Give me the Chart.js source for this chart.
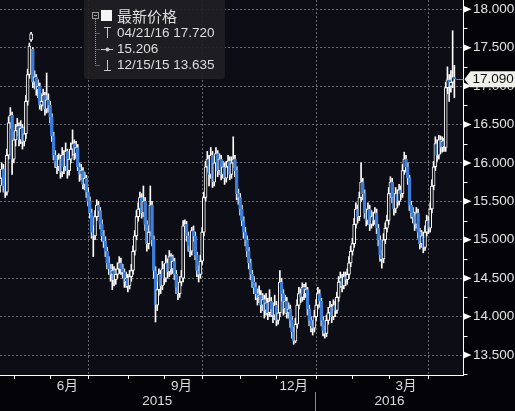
<!DOCTYPE html>
<html>
<head>
<meta charset="utf-8">
<script src="https://cdn.jsdelivr.net/npm/chart.js@4.4.1/dist/chart.umd.min.js"></script>
<style>
  html, body { margin: 0; padding: 0; background: #040408; }
  #wrap { width: 515px; height: 411px; position: relative; }
</style>
</head>
<body>
<div id="wrap"><canvas id="chart" width="515" height="411"></canvas></div>
<script>
// daily prices, 2015-04-21 .. 2016-04-22
const opens = [
  15.70,15.80,15.92,15.70,15.62,16.10,16.52,16.62,16.05,16.30,
  16.42,16.48,16.30,16.45,16.28,16.38,16.80,17.15,17.60,17.48,
  17.05,17.12,16.95,17.00,16.75,16.80,16.88,16.70,16.82,16.75,
  16.60,16.35,16.10,16.02,15.95,16.05,15.88,16.10,15.95,16.15,
  15.90,16.05,16.18,16.25,16.12,16.20,15.95,15.85,15.90,15.72,
  15.80,15.62,15.50,15.35,15.10,15.05,15.30,15.45,15.38,15.20,
  15.05,14.98,14.85,14.70,14.62,14.55,14.60,14.48,14.55,14.62,
  14.70,14.62,14.58,14.45,14.50,14.40,14.52,14.60,14.85,15.05,
  15.30,15.40,15.55,15.35,15.50,15.20,14.95,15.10,15.45,15.00,
  14.60,14.15,14.35,14.55,14.40,14.62,14.50,14.70,14.58,14.78,
  14.62,14.72,14.55,14.38,14.30,14.45,14.50,15.18,15.20,15.05,
  14.92,14.85,15.12,15.05,14.80,14.60,14.55,14.72,15.10,15.55,
  15.95,16.05,15.85,16.10,15.75,16.00,16.12,15.90,16.05,15.85,
  15.95,15.80,15.95,16.02,15.85,16.00,16.05,15.90,15.60,15.55,
  15.40,15.25,15.10,15.00,14.85,14.70,14.55,14.45,14.38,14.30,
  14.25,14.28,14.15,14.22,14.08,14.18,14.05,14.20,14.10,14.02,
  14.15,13.95,14.05,14.45,14.30,14.10,14.20,14.05,14.10,13.95,
  13.80,13.68,13.90,14.15,14.30,14.25,14.38,14.30,14.35,14.10,
  13.95,13.88,13.85,14.00,14.15,14.30,14.20,13.95,13.82,13.78,
  13.95,14.05,14.12,14.00,14.15,14.08,14.25,14.45,14.50,14.40,
  14.52,14.48,14.55,14.70,14.85,14.95,15.20,15.40,15.30,15.55,
  15.75,15.60,15.35,15.25,15.40,15.20,15.30,15.25,15.35,15.15,
  15.00,14.80,14.75,15.00,15.15,15.25,15.60,15.75,15.55,15.40,
  15.60,15.50,15.65,15.60,15.90,16.05,15.95,15.80,15.45,15.35,
  15.30,15.20,15.35,15.10,14.95,15.05,14.90,15.10,15.25,15.15,
  15.40,15.70,15.95,16.25,16.10,16.30,16.20,16.28,16.20,16.98,
  17.08,17.00,17.05,17.12
];
const highs = [
  15.90,16.00,15.98,15.78,16.18,16.60,16.72,16.66,16.40,16.50,
  16.58,16.52,16.55,16.50,16.46,16.88,17.22,17.56,17.70,17.50,
  17.20,17.15,17.08,17.04,16.90,16.96,16.92,17.17,16.90,16.80,
  16.64,16.40,16.16,16.10,16.12,16.10,16.20,16.16,16.26,16.18,
  16.14,16.26,16.43,16.30,16.28,16.24,16.00,15.98,15.94,15.88,
  15.84,15.68,15.56,15.40,15.18,15.38,15.52,15.50,15.42,15.26,
  15.12,15.04,14.90,14.78,14.68,14.68,14.65,14.62,14.70,14.78,
  14.76,14.68,14.62,14.58,14.55,14.60,14.68,14.92,15.12,15.38,
  15.48,15.62,15.60,15.70,15.55,15.25,15.18,15.70,15.50,15.05,
  14.65,14.45,14.62,14.60,14.72,14.68,14.80,14.75,14.86,14.82,
  14.80,14.76,14.60,14.44,14.52,14.60,15.25,15.26,15.24,15.10,
  14.98,15.16,15.18,15.10,14.84,14.66,14.80,15.16,15.62,16.02,
  16.15,16.10,16.20,16.15,16.08,16.20,16.16,16.12,16.10,16.02,
  16.00,16.02,16.10,16.08,16.08,16.34,16.10,15.95,15.66,15.60,
  15.45,15.30,15.16,15.05,14.90,14.75,14.60,14.52,14.44,14.36,
  14.40,14.34,14.30,14.28,14.30,14.24,14.35,14.25,14.18,14.28,
  14.20,14.15,14.60,14.50,14.35,14.28,14.25,14.18,14.15,14.00,
  13.86,13.98,14.22,14.38,14.36,14.44,14.42,14.44,14.38,14.15,
  14.00,13.95,14.08,14.22,14.38,14.35,14.24,14.00,13.88,14.02,
  14.12,14.20,14.16,14.22,14.20,14.32,14.52,14.58,14.55,14.58,
  14.58,14.62,14.78,14.92,15.02,15.28,15.48,15.45,15.62,16.00,
  15.80,15.65,15.40,15.48,15.45,15.38,15.36,15.42,15.40,15.20,
  15.05,14.86,15.08,15.22,15.32,15.68,15.82,15.80,15.60,15.68,
  15.65,15.72,15.70,15.98,16.14,16.10,16.00,15.84,15.50,15.42,
  15.36,15.42,15.40,15.15,15.12,15.10,15.18,15.32,15.30,15.48,
  15.78,16.02,16.34,16.30,16.36,16.35,16.34,16.32,17.05,17.25,
  17.15,17.20,17.72,17.27
];
const lows = [
  15.62,15.72,15.62,15.55,15.58,16.05,16.45,15.85,16.00,16.22,
  16.35,16.22,16.25,16.18,16.22,16.32,16.75,17.10,17.58,16.98,
  16.96,16.88,16.85,16.70,16.68,16.74,16.62,16.65,16.66,16.52,
  16.28,16.04,15.94,15.86,15.90,15.80,15.82,15.86,15.90,15.80,
  15.84,16.00,16.10,16.04,16.06,15.90,15.76,15.78,15.66,15.65,
  15.55,15.44,15.28,15.02,14.78,15.00,15.25,15.30,15.14,14.98,
  14.90,14.78,14.62,14.55,14.46,14.35,14.40,14.42,14.50,14.56,
  14.55,14.50,14.38,14.38,14.32,14.36,14.46,14.55,14.80,15.00,
  15.24,15.35,15.28,15.30,15.12,14.85,14.88,15.05,14.92,14.50,
  13.93,14.08,14.28,14.30,14.35,14.42,14.45,14.50,14.52,14.55,
  14.56,14.48,14.30,14.22,14.25,14.40,14.45,15.10,14.98,14.85,
  14.78,14.80,14.98,14.74,14.52,14.45,14.50,14.68,15.05,15.50,
  15.88,15.70,15.80,15.68,15.70,15.95,15.82,15.85,15.78,15.80,
  15.72,15.75,15.90,15.78,15.80,15.94,15.82,15.52,15.46,15.32,
  15.18,15.02,14.92,14.78,14.62,14.48,14.38,14.30,14.22,14.15,
  14.18,14.05,14.08,13.98,14.02,13.96,14.00,14.00,13.92,13.96,
  13.88,13.90,14.00,14.20,14.02,14.04,13.98,13.98,13.86,13.72,
  13.64,13.66,13.85,14.10,14.18,14.20,14.22,14.25,14.02,13.88,
  13.80,13.76,13.80,13.95,14.10,14.12,13.88,13.75,13.72,13.74,
  13.90,14.00,13.92,13.96,14.00,14.04,14.20,14.38,14.32,14.36,
  14.40,14.42,14.50,14.65,14.80,14.90,15.15,15.22,15.25,15.50,
  15.52,15.28,15.18,15.20,15.12,15.15,15.18,15.20,15.08,14.92,
  14.72,14.63,14.70,14.95,15.10,15.20,15.55,15.48,15.32,15.35,
  15.42,15.45,15.52,15.55,15.85,15.88,15.72,15.38,15.28,15.22,
  15.12,15.15,15.02,14.88,14.90,14.83,14.86,15.05,15.08,15.10,
  15.35,15.65,15.90,16.02,16.05,16.12,16.14,16.15,16.15,16.90,
  16.80,16.92,16.98,16.85
];
const closes = [
  15.80,15.92,15.70,15.62,16.10,16.52,16.62,16.05,16.30,16.42,
  16.48,16.30,16.45,16.28,16.38,16.80,17.15,17.52,17.68,17.05,
  17.12,16.95,17.00,16.75,16.80,16.88,16.70,16.82,16.75,16.60,
  16.35,16.10,16.02,15.95,16.05,15.88,16.10,15.95,16.15,15.90,
  16.05,16.18,16.25,16.12,16.20,15.95,15.85,15.90,15.72,15.80,
  15.62,15.50,15.35,15.10,15.05,15.30,15.45,15.38,15.20,15.05,
  14.98,14.85,14.70,14.62,14.55,14.60,14.48,14.55,14.62,14.70,
  14.62,14.58,14.45,14.50,14.40,14.52,14.60,14.85,15.05,15.30,
  15.40,15.55,15.35,15.50,15.20,14.95,15.10,15.45,15.00,14.60,
  14.15,14.35,14.55,14.40,14.62,14.50,14.70,14.58,14.78,14.62,
  14.72,14.55,14.38,14.30,14.45,14.52,15.18,15.20,15.05,14.92,
  14.85,15.12,15.05,14.80,14.60,14.55,14.72,15.10,15.55,15.95,
  16.05,15.85,16.10,15.75,16.00,16.12,15.90,16.05,15.85,15.95,
  15.80,15.95,16.02,15.85,16.00,16.05,15.90,15.60,15.55,15.40,
  15.25,15.10,15.00,14.85,14.70,14.55,14.45,14.38,14.30,14.25,
  14.28,14.15,14.22,14.08,14.18,14.05,14.20,14.10,14.02,14.15,
  13.95,14.05,14.45,14.30,14.10,14.20,14.05,14.10,13.95,13.80,
  13.68,13.90,14.15,14.30,14.25,14.38,14.30,14.35,14.10,13.95,
  13.88,13.85,14.00,14.15,14.30,14.20,13.95,13.82,13.78,13.95,
  14.05,14.12,14.00,14.15,14.08,14.25,14.45,14.50,14.40,14.52,
  14.48,14.55,14.70,14.85,14.95,15.20,15.40,15.30,15.55,15.75,
  15.60,15.35,15.25,15.40,15.20,15.30,15.25,15.35,15.15,15.00,
  14.80,14.75,15.00,15.15,15.25,15.60,15.75,15.55,15.40,15.60,
  15.50,15.65,15.60,15.90,16.05,15.95,15.80,15.45,15.35,15.30,
  15.20,15.35,15.10,14.95,15.05,14.90,15.10,15.25,15.15,15.40,
  15.70,15.95,16.25,16.10,16.30,16.20,16.28,16.22,16.98,17.08,
  17.00,17.05,17.12,17.09
];

const yTicks = [13.5, 14.0, 14.5, 15.0, 15.5, 16.0, 16.5, 17.0, 17.5, 18.0];
const yMinorTicks = [13.25, 13.75, 14.25, 14.75, 15.25, 15.75, 16.25, 16.75, 17.25, 17.75];
const monthLabelDates = ['2015-06-15', '2015-09-15', '2015-12-15', '2016-03-15'];
const monthLabelTexts = ['6月', '9月', '12月', '3月'];
const yearLabels = ['2015', '2016'];
const legendTitle = '最新价格';
const legendRows = ['04/21/16 17.720', '15.206', '12/15/15 13.635'];

// weekday categories, axis runs a week past the last bar
const dates = [];
for (let d = new Date(Date.UTC(2015, 3, 21)); d <= new Date(Date.UTC(2016, 3, 29)); d.setUTCDate(d.getUTCDate() + 1)) {
    const wd = d.getUTCDay();
    if (wd !== 0 && wd !== 6) dates.push(d.toISOString().slice(0, 10));
}

const monthStarts = [];
const quarterStarts = [];
dates.forEach((s, i) => {
    if (i > 0 && s.slice(5, 7) !== dates[i - 1].slice(5, 7)) {
        monthStarts.push(i);
        if (['01', '04', '07', '10'].includes(s.slice(5, 7))) quarterStarts.push(i);
    }
});
const monthLabelAt = {};
monthLabelDates.forEach((md, k) => {
    const idx = dates.findIndex(s => s >= md);
    monthLabelAt[idx] = monthLabelTexts[k];
});

const UP = "#ffffff";
const DOWN = "#3b7dd8";
const BG = "#0d0d15";
const GRID = "#6a6a6a";
const FONT = "'Liberation Sans', Arial, 'Noto Sans CJK SC', sans-serif";

const wicks = lows.map((l, i) => [l, highs[i]]);
const bodies = opens.map((o, i) => [o, closes[i]]);
const isUp = opens.map((o, i) => closes[i] >= o);

const noPad = s => { s.paddingTop = 0; s.paddingBottom = 0; s.paddingLeft = 0; s.paddingRight = 0; };

const decor = {
    id: 'decor',
    beforeDraw(chart) {
        const { ctx, chartArea: a } = chart;
        ctx.save();
        ctx.fillStyle = BG;
        ctx.fillRect(a.left, a.top, a.right - a.left, a.bottom - a.top);
        ctx.restore();
    },
    beforeDatasetsDraw(chart) {
        // dotted quarter lines
        const { ctx, chartArea: a } = chart;
        const xs = chart.scales.x;
        ctx.save();
        ctx.strokeStyle = GRID;
        ctx.lineWidth = 1;
        ctx.setLineDash([2, 2]);
        quarterStarts.forEach(i => {
            const px = Math.round(xs.getPixelForValue(i)) + 0.5;
            ctx.beginPath();
            ctx.moveTo(px, a.top);
            ctx.lineTo(px, a.bottom);
            ctx.stroke();
        });
        ctx.restore();
    },
    afterDraw(chart) {
        const { ctx, chartArea: a } = chart;
        const xs = chart.scales.x, ys = chart.scales.y;
        ctx.save();

        // y axis markers
        const ax = Math.round(ys.left) + 0.5;
        ctx.fillStyle = "#ffffff";
        ctx.strokeStyle = "#ffffff";
        ctx.lineWidth = 1;
        yTicks.forEach(v => {
            const py = ys.getPixelForValue(v);
            ctx.beginPath();
            ctx.moveTo(ax, py - 3.5);
            ctx.lineTo(ax + 8, py);
            ctx.lineTo(ax, py + 3.5);
            ctx.closePath();
            ctx.fill();
        });
        yMinorTicks.forEach(v => {
            const py = Math.round(ys.getPixelForValue(v)) + 0.5;
            ctx.beginPath();
            ctx.moveTo(ax, py);
            ctx.lineTo(ax + 4, py);
            ctx.stroke();
        });

        // month ticks under the x axis
        monthStarts.forEach(i => {
            const px = Math.round(xs.getPixelForValue(i)) + 0.5;
            ctx.beginPath();
            ctx.moveTo(px, a.bottom);
            ctx.lineTo(px, a.bottom + 4);
            ctx.stroke();
        });

        // year labels and separator
        ctx.fillStyle = "#dcdcdc";
        ctx.font = "13.5px " + FONT;
        ctx.textAlign = "center";
        ctx.textBaseline = "middle";
        yearLabels.forEach(yr => {
            const first = dates.findIndex(s => s.startsWith(yr));
            let last = first;
            dates.forEach((s, i) => { if (s.startsWith(yr)) last = i; });
            const px = (xs.getPixelForValue(first) + xs.getPixelForValue(last)) / 2;
            ctx.fillText(yr, px, a.bottom + 26);
            if (first > 0) {
                const sx = Math.round((xs.getPixelForValue(first - 1) + xs.getPixelForValue(first)) / 2) + 0.5;
                ctx.strokeStyle = "#8a8a8a";
                ctx.beginPath();
                ctx.moveTo(sx, a.bottom + 17);
                ctx.lineTo(sx, chart.height);
                ctx.stroke();
            }
        });

        // last price marker
        const li = closes.length - 1;
        const lp = ys.getPixelForValue(closes[li]);
        const ly = Math.round(lp) + 0.5;
        ctx.strokeStyle = "#d2703a";
        ctx.beginPath();
        ctx.moveTo(xs.getPixelForValue(li) + 2, ly);
        ctx.lineTo(ax, ly);
        ctx.stroke();
        ctx.fillStyle = "#f0f0ea";
        ctx.beginPath();
        ctx.moveTo(ax + 1, lp);
        ctx.lineTo(ax + 7, lp - 8);
        ctx.lineTo(chart.width, lp - 8);
        ctx.lineTo(chart.width, lp + 8);
        ctx.lineTo(ax + 7, lp + 8);
        ctx.closePath();
        ctx.fill();
        ctx.fillStyle = "#111111";
        ctx.textAlign = "left";
        ctx.fillText(closes[li].toFixed(3), ax + 9, lp + 0.5);

        // legend box
        ctx.fillStyle = "rgba(30, 30, 36, 0.92)";
        ctx.beginPath();
        ctx.roundRect(84, -4, 141, 83, 4);
        ctx.fill();
        ctx.strokeStyle = "#9a9a9a";
        ctx.strokeRect(92.5, 12.5, 6, 6);
        ctx.beginPath();
        ctx.moveTo(94, 15.5); ctx.lineTo(97, 15.5);
        ctx.stroke();
        ctx.setLineDash([1, 1]);
        ctx.beginPath();
        ctx.moveTo(95.5, 19); ctx.lineTo(95.5, 65);
        [33, 49, 65].forEach(ry => { ctx.moveTo(95.5, ry + 0.5); ctx.lineTo(100, ry + 0.5); });
        ctx.stroke();
        ctx.setLineDash([]);
        ctx.fillStyle = "#f4f4f4";
        ctx.fillRect(101, 10, 11, 11);
        ctx.strokeStyle = "#c8c8c8";
        ctx.beginPath();
        ctx.moveTo(104, 27.5); ctx.lineTo(111, 27.5);
        ctx.moveTo(107.5, 27.5); ctx.lineTo(107.5, 38);
        ctx.moveTo(101, 49.5); ctx.lineTo(113, 49.5);
        ctx.moveTo(107.5, 60); ctx.lineTo(107.5, 70.5);
        ctx.moveTo(104, 70.5); ctx.lineTo(111, 70.5);
        ctx.stroke();
        ctx.beginPath();
        ctx.arc(107.5, 49.5, 2, 0, Math.PI * 2);
        ctx.fillStyle = "#c8c8c8";
        ctx.fill();
        ctx.fillStyle = "#dedede";
        ctx.textAlign = "left";
        ctx.font = "15px 'Noto Sans CJK SC', sans-serif";
        ctx.fillText(legendTitle, 117, 16);
        ctx.font = "13.5px " + FONT;
        legendRows.forEach((t, k) => ctx.fillText(t, 117, 33 + k * 16));
        ctx.restore();
    }
};

new Chart(document.getElementById("chart"), {
    type: "bar",
    data: {
        labels: dates,
        datasets: [
            {
                label: "wick",
                data: wicks,
                backgroundColor: "#ffffff",
                barThickness: 1,
                grouped: false,
                order: 1
            },
            {
                label: "body",
                data: bodies,
                backgroundColor: isUp.map(u => u ? BG : DOWN),
                borderColor: isUp.map(u => u ? UP : DOWN),
                borderWidth: 1,
                borderSkipped: false,
                barThickness: 3,
                minBarLength: 1,
                grouped: false,
                order: 0
            }
        ]
    },
    options: {
        responsive: false,
        animation: false,
        layout: { padding: 0 },
        plugins: {
            legend: { display: false },
            tooltip: { enabled: false }
        },
        scales: {
            x: {
                offset: false,
                grid: { display: false, drawTicks: false },
                border: { display: true, color: "#ffffff" },
                ticks: {
                    autoSkip: false,
                    maxRotation: 0,
                    minRotation: 0,
                    padding: 3,
                    color: "#dcdcdc",
                    font: { family: FONT, size: 13.5 },
                    callback: (v, i) => monthLabelAt[i] || ""
                },
                afterFit: s => { s.height = 36; noPad(s); }
            },
            y: {
                position: "right",
                min: 13.24,
                max: 18.12,
                afterBuildTicks: s => { s.ticks = yTicks.map(v => ({ value: v })); },
                grid: { color: GRID, drawTicks: false },
                border: { display: true, color: "#ffffff", dash: [2, 2] },
                ticks: {
                    padding: 10,
                    color: "#e4e4e4",
                    font: { family: FONT, size: 13.5 },
                    callback: v => Number(v).toFixed(3)
                },
                afterFit: s => { s.width = 52; noPad(s); }
            }
        }
    },
    plugins: [decor]
});
</script>
</body>
</html>
